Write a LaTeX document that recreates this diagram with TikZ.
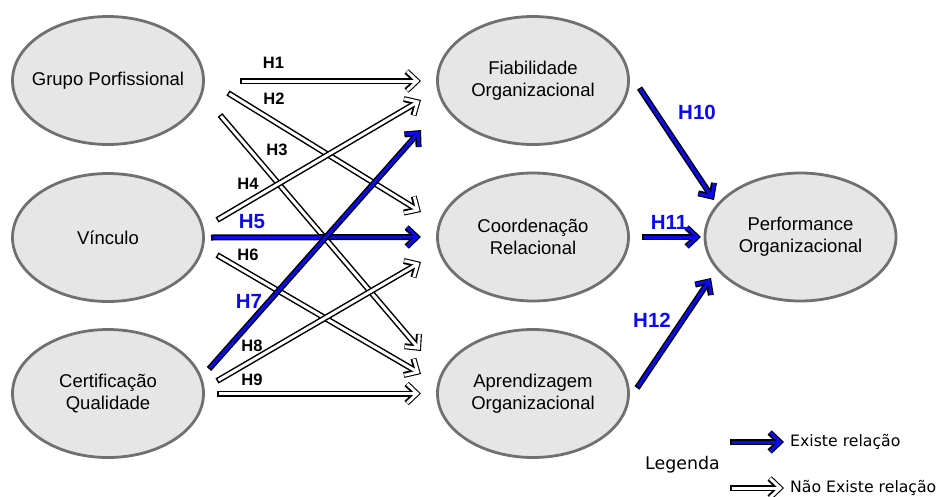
\documentclass[tikz,border=0pt]{standalone}
\usepackage{fontspec}
\setmainfont{Liberation Sans}
\newfontfamily\legendfont{DejaVu Sans}
\usetikzlibrary{arrows.meta,shapes.geometric,calc}

\definecolor{ellfill}{RGB}{230,230,230}
\definecolor{ellline}{RGB}{112,112,112}
\definecolor{hblue}{RGB}{10,10,235}

\tikzset{
  % negative inner xsep keeps the ellipse at its fixed size for long names
  construct/.style={ellipse, draw=ellline, fill=ellfill, line width=2.8pt,
    minimum width=191pt, minimum height=128pt, inner xsep=-14pt, inner ysep=0pt,
    align=center, font=\fontsize{18.5}{22}\selectfont},
  hlabel/.style={font=\bfseries\fontsize{16.5}{18}\selectfont, text=black, inner sep=0pt},
  hlabelok/.style={font=\bfseries\fontsize{20.5}{22}\selectfont, text=hblue, inner sep=0pt},
  % outlined arrow: black outer stroke, coloured inner stroke
  hyp/.style={draw=#1, line width=3pt,
    -{Straight Barb[length=10pt,width=19pt,sharp]},
    shorten >=1.6pt, shorten <=1.5pt,
    preaction={draw=black, line width=6pt,
      -{Straight Barb[length=10pt,width=19pt,sharp]},
      shorten >=0pt, shorten <=0pt}},
  rejected/.style={hyp=white},
  supported/.style={hyp=hblue},
}

\begin{document}
\begin{tikzpicture}[x=1pt,y=-1pt]
\useasboundingbox (0,0) rectangle (938,496);

% constructs
\node[construct] (gp) at (108,80.5)  {Grupo Porfissional};
\node[construct] (vi) at (108,237.5) {Vínculo};
\node[construct] (cq) at (108,393.5) {Certificação\\Qualidade};
\node[construct] (fo) at (533,80.5)  {Fiabilidade\\Organizacional};
\node[construct] (cr) at (533,237)   {Coordenação\\Relacional};
\node[construct] (ao) at (533,393.5) {Aprendizagem\\Organizacional};
\node[construct] (po) at (800.5,237) {Performance\\Organizacional};

% hypotheses without support
\draw[rejected] ([shift={(132,0.5)}]gp.center)  -- ([shift={(-112,0.5)}]fo.center);
\draw[rejected] ([shift={(120,12.5)}]gp.center) -- ([shift={(-112,-25)}]cr.center);
\draw[rejected] ([shift={(112,34.5)}]gp.center) -- ([shift={(-112,-42.5)}]ao.center);
\draw[rejected] ([shift={(109,-17.5)}]vi.center) -- ([shift={(-112,19.5)}]fo.center);
\draw[rejected] ([shift={(109,17.5)}]vi.center) -- ([shift={(-112,-19.5)}]ao.center);
\draw[rejected] ([shift={(109,-12.5)}]cq.center) -- ([shift={(-112,25)}]cr.center);
\draw[rejected] ([shift={(109,0)}]cq.center)    -- ([shift={(-112,0)}]ao.center);

% supported hypotheses
\draw[supported] ([shift={(103,0)}]vi.center)    -- ([shift={(-112,0)}]cr.center);
\draw[supported] ([shift={(101,-24.5)}]cq.center) -- ([shift={(-112,49.5)}]fo.center);
\draw[supported] ([shift={(106.5,7.5)}]fo.center) -- ([shift={(-86.5,-37)}]po.center);
\draw[supported] ([shift={(109,0)}]cr.center)    -- ([shift={(-99.5,0)}]po.center);
\draw[supported] ([shift={(104,-5.5)}]ao.center) -- ([shift={(-89.5,41)}]po.center);

% hypothesis labels
\node[hlabel] (l1) at (273.5,63) {H1};
\node[hlabel] (l2) at (274,99)  {H2};
\node[hlabel] (l3) at (277,150) {H3};
\node[hlabel] (l4) at (248,184) {H4};
\node[hlabelok] (l5) at (252,222) {H5};
\node[hlabel] (l6) at (248,255) {H6};
\node[hlabelok] (l7) at (249,301) {H7};
\node[hlabel] (l8) at (252,346) {H8};
\node[hlabel] (l9) at (252,380) {H9};
\node[hlabelok] (l10) at (697,112) {H10};
\node[hlabelok] (l11) at (669,222) {H11};
\node[hlabelok] (l12) at (652,320) {H12};

% legend
\node[font=\legendfont\fontsize{17.4}{20}\selectfont, inner sep=0pt] (leg) at (682.5,465) {Legenda};
\node[font=\legendfont\fontsize{15.7}{18}\selectfont, inner sep=0pt, anchor=west] (ex) at (790,442) {Existe relação};
\node[font=\legendfont\fontsize{15.7}{18}\selectfont, inner sep=0pt, anchor=west] (nx) at (790,488) {Não Existe relação};
\draw[supported] ([xshift=-60pt]ex.west) -- ([xshift=-6pt]ex.west);
\draw[rejected]  ([xshift=-60pt]nx.west) -- ([xshift=-6pt]nx.west);
\end{tikzpicture}
\end{document}
